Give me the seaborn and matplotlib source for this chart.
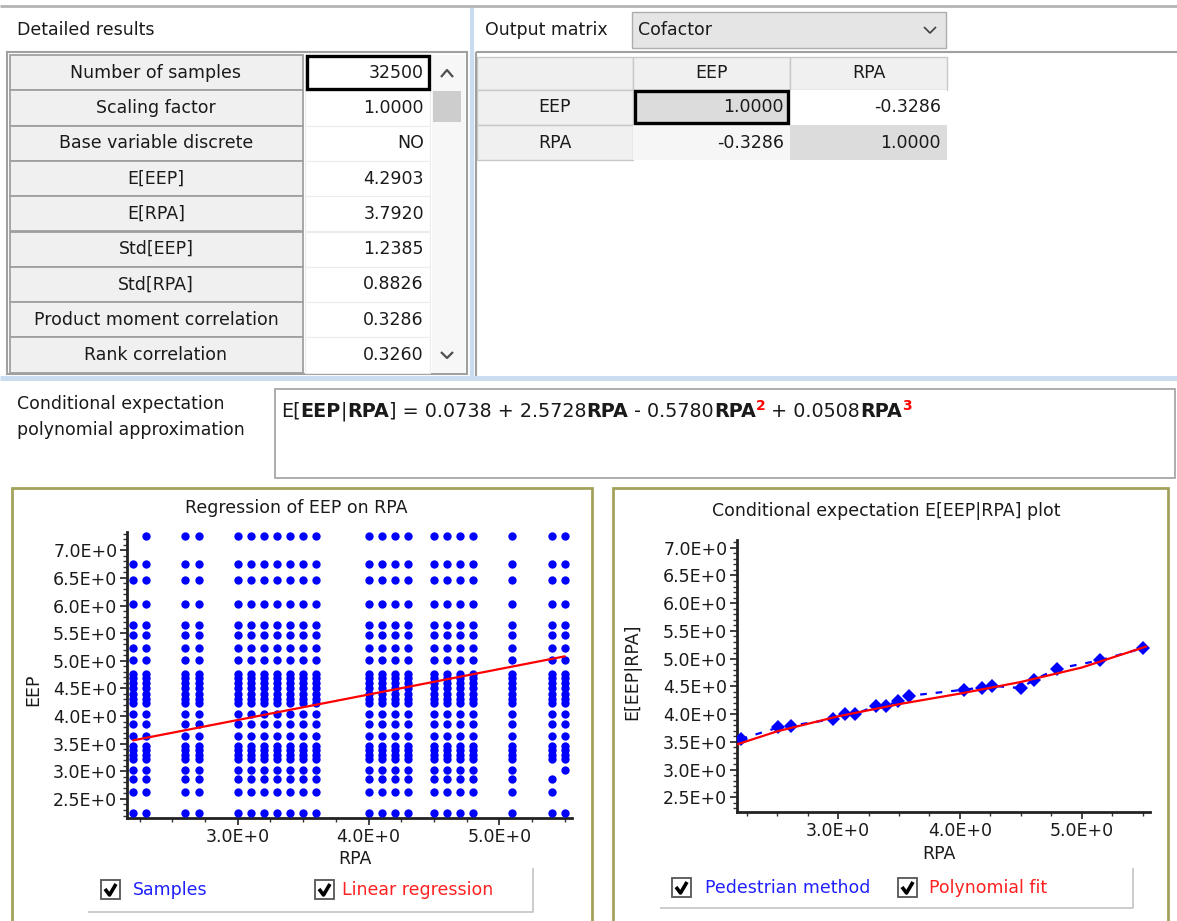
import matplotlib
matplotlib.use("Agg")
import matplotlib.pyplot as plt
import seaborn as sns
import pandas as pd
from matplotlib.patches import Rectangle
from matplotlib.ticker import MultipleLocator, FixedLocator, FuncFormatter

# ---------------- data ----------------
detail_labels = ["Number of samples", "Scaling factor", "Base variable discrete",
                 "E[EEP]", "E[RPA]", "Std[EEP]", "Std[RPA]",
                 "Product moment correlation", "Rank correlation"]
detail_values = ["32500", "1.0000", "NO", "4.2903", "3.7920", "1.2385",
                 "0.8826", "0.3286", "0.3260"]
matrix_names = ["EEP", "RPA"]
matrix_values = [["1.0000", "-0.3286"], ["-0.3286", "1.0000"]]

rpa_levels = [2.2, 2.3, 2.6, 2.7, 3.0, 3.1, 3.2, 3.3, 3.4, 3.5, 3.6,
              4.0, 4.1, 4.2, 4.3, 4.5, 4.6, 4.7, 4.8, 5.1, 5.4, 5.5]
eep_levels = [2.24, 2.62, 2.86, 3.03, 3.22, 3.30, 3.38, 3.46, 3.63, 3.85,
              4.03, 4.23, 4.30, 4.40, 4.50, 4.60, 4.68, 4.76, 5.02, 5.24,
              5.46, 5.64, 6.03, 6.46, 6.75, 7.25]
absent_pairs = [(2.2, 7.25), (5.4, 3.03), (5.5, 2.86), (5.5, 2.62)]

reg_rpa = [2.2, 5.5]
reg_eep = [3.56, 5.08]

ped_rpa = [2.20, 2.51, 2.61, 2.96, 3.06, 3.14, 3.31, 3.39, 3.49, 3.58,
           4.03, 4.18, 4.26, 4.50, 4.61, 4.80, 5.15, 5.50]
ped_eep = [3.55, 3.76, 3.79, 3.91, 4.00, 4.00, 4.15, 4.15, 4.23, 4.33,
           4.44, 4.48, 4.51, 4.47, 4.62, 4.82, 4.97, 5.19]

poly_rpa = [2.15, 2.5, 3.0, 3.5, 4.0, 4.5, 5.0, 5.53]
poly_eep = [3.44, 3.69, 3.96, 4.18, 4.37, 4.58, 4.84, 5.22]

# ---------------- figure ----------------
W, H = 1177, 921
sns.set_theme(style="white")
plt.rcParams['font.family'] = ['DejaVu Sans']
fig = plt.figure(figsize=(W / 100, H / 100), dpi=100)
fig.patch.set_facecolor("white")
bg = fig.add_axes([0, 0, 1, 1])
bg.set_xlim(0, W)
bg.set_ylim(H, 0)
bg.axis("off")
FS = 12.5


def rect(x0, y0, x1, y1, fc="none", ec="none", lw=0.0, z=1):
    bg.add_patch(Rectangle((x0, y0), x1 - x0, y1 - y0, facecolor=fc,
                           edgecolor=ec, linewidth=lw, zorder=z))


def line(xs, ys, color="#a0a0a0", lw=1.5, z=2):
    bg.plot(xs, ys, color=color, lw=lw, zorder=z, solid_capstyle="butt")


def txt(x, y, s, ha="left", va="center", size=FS, color="#1a1a1a", **kw):
    return bg.text(x, y, s, ha=ha, va=va, fontsize=size, color=color, zorder=5, **kw)


# top border and dividers
line([0, W], [6, 6], "#b4b4b4", 2.0)
line([472, 472], [8, 376], "#c9dcf0", 3.0)
line([0, W], [378, 378], "#c9dcf0", 3.5)

# ---------- Detailed results ----------
txt(17, 30, "Detailed results")
rect(7, 52, 467, 374, fc="white", ec="#a0a0a0", lw=1.5)
row_top = 55
row_h = 35.3
for i, (lab, val) in enumerate(zip(detail_labels, detail_values)):
    y0 = row_top + i * row_h
    y1 = y0 + row_h
    rect(10, y0, 303, y1, fc="#f0f0f0", ec="#a0a0a0", lw=1.3)
    rect(305, y0, 430, y1, fc="white", ec="#ececec", lw=0.8)
    txt(156, (y0 + y1) / 2, lab, ha="center")
    txt(424, (y0 + y1) / 2, val, ha="right")
rect(306.5, row_top + 1.5, 429, row_top + row_h - 1.5, ec="black", lw=2.4, z=3)
# scrollbar
rect(432, 55, 465, 373, fc="#f7f7f7", ec="none")
rect(433, 91, 461, 122, fc="#cdcdcd", ec="none", z=2)
line([441, 447, 453], [77, 70, 77], "#505050", 1.6)
line([441, 447, 453], [352, 358, 352], "#505050", 1.6)

# ---------- Output matrix ----------
txt(485, 30, "Output matrix")
rect(632, 12, 946, 48, fc="#e5e5e5", ec="#adadad", lw=1.0)
txt(638, 30, "Cofactor")
line([924, 930, 936], [27, 33, 27], "#404040", 1.2)
line([476, W], [52, 52], "#a0a0a0", 1.5)
line([476, 476], [52, 376], "#a0a0a0", 1.5)
cx = [477, 633, 790, 947]
ry = [57, 90, 125, 160]
rect(cx[0], ry[0], cx[1], ry[1], fc="#f0f0f0", ec="#c8c8c8", lw=1.0)
for j, nm in enumerate(matrix_names):
    rect(cx[j + 1], ry[0], cx[j + 2], ry[1], fc="#f0f0f0", ec="#c8c8c8", lw=1.0)
    txt((cx[j + 1] + cx[j + 2]) / 2, (ry[0] + ry[1]) / 2, nm, ha="center")
fills = [["#dcdcdc", "white"], ["#f6f6f6", "#dcdcdc"]]
for i, nm in enumerate(matrix_names):
    rect(cx[0], ry[i + 1], cx[1], ry[i + 2], fc="#f0f0f0", ec="#c8c8c8", lw=1.0)
    txt((cx[0] + cx[1]) / 2, (ry[i + 1] + ry[i + 2]) / 2, nm, ha="center")
    for j in range(2):
        rect(cx[j + 1], ry[i + 1], cx[j + 2], ry[i + 2], fc=fills[i][j], ec="none")
        txt(cx[j + 2] - 6, (ry[i + 1] + ry[i + 2]) / 2, matrix_values[i][j], ha="right")
rect(635, 91.5, 788, 123.5, ec="black", lw=2.4, z=3)

# ---------- Conditional expectation equation ----------
txt(17, 404, "Conditional expectation")
txt(17, 430, "polynomial approximation")
rect(275, 389, 1175, 478, fc="white", ec="#a0a0a0", lw=1.2)
renderer = fig.canvas.get_renderer()
parts = [("E[", "normal", "#1a1a1a", 0), ("EEP", "bold", "#1a1a1a", 0),
         ("|", "normal", "#1a1a1a", 0), ("RPA", "bold", "#1a1a1a", 0),
         ("] = 0.0738 + 2.5728", "normal", "#1a1a1a", 0), ("RPA", "bold", "#1a1a1a", 0),
         (" - 0.5780", "normal", "#1a1a1a", 0), ("RPA", "bold", "#1a1a1a", 0),
         ("2", "bold", "red", 1), (" + 0.0508", "normal", "#1a1a1a", 0),
         ("RPA", "bold", "#1a1a1a", 0), ("3", "bold", "red", 1)]
xpos = 281
for s, wgt, col, sup in parts:
    t = txt(xpos, 411 - (5 if sup else 0), s, size=(10 if sup else 13.8), color=col,
            weight=wgt)
    bb = t.get_window_extent(renderer=renderer)
    xpos += bb.width

# ---------- panels ----------
olive = "#a2a25c"
rect(12, 488, 592, 930, fc="white", ec=olive, lw=2.0)
rect(613, 488, 1168, 930, fc="white", ec=olive, lw=2.0)
txt(296, 508, "Regression of EEP on RPA", ha="center")
txt(886, 511, "Conditional expectation E[EEP|RPA] plot", ha="center")


def checkbox(x, y):
    rect(x, y, x + 19, y + 19, fc="white", ec="#555555", lw=1.3, z=3)
    line([x + 4, x + 8.5, x + 15], [y + 9, y + 15, y + 4], "black", 2.6, z=4)


# legend frames
line([88, 533, 533], [912, 912, 868], "#c8c8c8", 1.3)
line([660, 1133, 1133], [908, 908, 868], "#c8c8c8", 1.3)
checkbox(101, 880)
txt(133, 890, "Samples", color="#2020ff")
checkbox(315, 880)
txt(342, 890, "Linear regression", color="#ff2020")
checkbox(672, 878)
txt(705, 888, "Pedestrian method", color="#2020ff")
checkbox(898, 878)
txt(929, 888, "Polynomial fit", color="#ff2020")


def px_axes(l, t, r, b):
    return fig.add_axes([l / W, 1 - b / H, (r - l) / W, (b - t) / H])


def style_axes(ax, xlim, ylim):
    ax.set_xlim(*xlim)
    ax.set_ylim(*ylim)
    ax.set_facecolor("none")
    for side in ("top", "right"):
        ax.spines[side].set_visible(False)
    for side in ("left", "bottom"):
        ax.spines[side].set_color("#222222")
        ax.spines[side].set_linewidth(2.0)
    ax.xaxis.set_major_locator(FixedLocator([3.0, 4.0, 5.0]))
    ax.xaxis.set_minor_locator(MultipleLocator(0.25))
    ax.yaxis.set_major_locator(MultipleLocator(0.5))
    ax.yaxis.set_minor_locator(MultipleLocator(0.1))
    fmt = FuncFormatter(lambda v, p: f"{v:.1f}E+0")
    ax.xaxis.set_major_formatter(fmt)
    ax.yaxis.set_major_formatter(fmt)
    ax.tick_params(which="major", direction="out", length=5, width=1.3,
                   color="#333333", labelsize=FS, labelcolor="#1a1a1a", pad=2,
                   left=True, bottom=True)
    ax.tick_params(which="minor", direction="out", length=3, width=1.0,
                   color="#333333", left=True, bottom=True)
    ax.grid(False)


# ---------- left plot ----------
absent = set(absent_pairs)
rows = [(r, e) for r in rpa_levels for e in eep_levels if (r, e) not in absent]
samples = pd.DataFrame(rows, columns=["RPA", "EEP"])
ax1 = px_axes(127, 532, 572, 818)
sns.scatterplot(data=samples, x="RPA", y="EEP", color="#0000ff", s=36,
                linewidth=0, ax=ax1, legend=False, zorder=3)
sns.lineplot(x=reg_rpa, y=reg_eep, color="#ff0000", lw=1.6, ax=ax1, zorder=4)
style_axes(ax1, (2.153, 5.555), (2.155, 7.33))
ax1.set_xlabel("RPA", fontsize=FS, color="#1a1a1a")
ax1.set_ylabel("EEP", fontsize=FS, color="#1a1a1a")
ax1.xaxis.set_label_coords(0.512, -0.112)
ax1.yaxis.set_label_coords(-0.19, 0.45)

# ---------- right plot ----------
ax2 = px_axes(737, 540, 1150, 812)
sns.lineplot(x=ped_rpa, y=ped_eep, color="#0000ff", lw=1.6, ax=ax2,
             linestyle=(0, (3, 4)), marker="D", markersize=7,
             markeredgewidth=0, zorder=3)
sns.lineplot(x=poly_rpa, y=poly_eep, color="#ff0000", lw=1.6, ax=ax2, zorder=4)
style_axes(ax2, (2.17, 5.56), (2.235, 7.14))
ax2.set_xlabel("RPA", fontsize=FS, color="#1a1a1a")
ax2.set_ylabel("E[EEP|RPA]", fontsize=FS, color="#1a1a1a")
ax2.xaxis.set_label_coords(0.49, -0.121)
ax2.yaxis.set_label_coords(-0.232, 0.515)

fig.savefig("out.png", dpi=100, facecolor="white")
